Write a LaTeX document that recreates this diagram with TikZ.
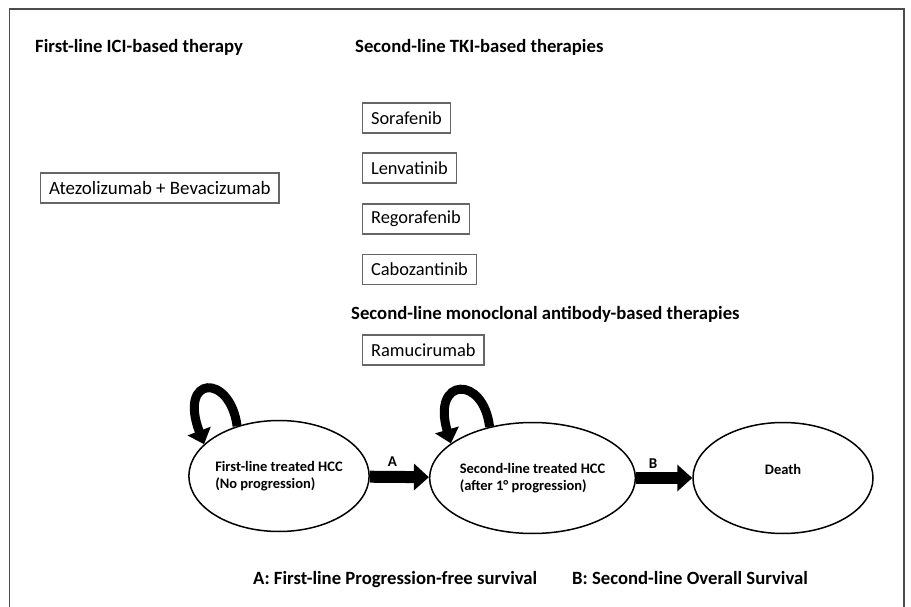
\documentclass[tikz,border=0pt]{standalone}
\usepackage{fontspec}
\setmainfont{Carlito}
\usepackage{tikz}
\usetikzlibrary{arrows.meta, shapes.geometric, calc}
\definecolor{framegray}{gray}{0.3}
\definecolor{boxgray}{gray}{0.4}
\tikzset{
    drug/.style={draw=boxgray, line width=1.2pt, inner xsep=8.5pt, inner ysep=0pt, minimum height=30pt, anchor=west, font=\fontsize{18.4}{22}\selectfont},
    heading/.style={anchor=west, inner sep=0pt, font=\bfseries\fontsize{18.7}{22}\selectfont},
    state/.style={shape=ellipse, draw=black, line width=1.5pt, minimum width=180pt, minimum height=111pt, inner sep=0pt, align=left, font=\bfseries\fontsize{14.5}{17}\selectfont},
    transition/.style={line width=12pt, -{Triangle[length=15pt,width=26pt]}},
    stay/.style={line width=9pt, -{Triangle[length=14pt,width=24pt]}}}

\begin{document}
\begin{tikzpicture}[x=1pt, y=-1pt]
                    \useasboundingbox (0,0) rectangle (911,607);
                    \draw[framegray, line width=1.5pt] (9.5,607) -- (9.5,9) -- (904,9) -- (904,607);

                    \node[heading] (H1) at (35,47) {First-line ICI-based therapy};
                    \node[heading] (H2) at (355,47) {Second-line TKI-based therapies};
                    \node[heading] (H3) at (351,314) {Second-line monoclonal antibody-based therapies};

                    \node[drug, font=\fontsize{18.9}{22}\selectfont] (atezo) at (40,188) {Atezolizumab + Bevacizumab};
                    \node[drug] (sora) at (362,118) {Sorafenib};
                    \node[drug] (lenva) at (362,168) {Lenvatinib};
                    \node[drug] (rego) at (362,219) {Regorafenib};
                    \node[drug] (cabo) at (362,269.5) {Cabozantinib};
                    \node[drug] (ramu) at (362,350) {Ramucirumab};

                    \node[state] (E1) at (279,476) {First-line treated HCC\\(No progression)};
                    \node[state] (E2) at (532.5,478) {Second-line treated HCC\\(after 1° progression)};
                    \node[state, align=center] (E3) at (783,478) {Death\\ \mbox{}};

                    \draw[stay] (E1.130) .. controls ($(E1.center)+(-49,-103)$) and ($(E1.center)+(-101,-101)$) .. (E1.157);
                    \draw[stay] (E2.130) .. controls ($(E2.center)+(-49,-103)$) and ($(E2.center)+(-101,-101)$) .. (E2.157);
                    \draw[transition] (E1) -- (E2) node[pos=0.38, above=4pt, inner sep=0pt, font=\bfseries\fontsize{15}{17}\selectfont] {A};
                    \draw[transition] (E2) -- (E3) node[pos=0.3, above=4pt, inner sep=0pt, font=\bfseries\fontsize{15}{17}\selectfont] {B};

                    \node[heading, anchor=base west] (LA) at (253,584) {A: First-line Progression-free survival};
                    \node[heading, anchor=base west] (LB) at (572,584) {B: Second-line Overall Survival};

\end{tikzpicture}
\end{document}
